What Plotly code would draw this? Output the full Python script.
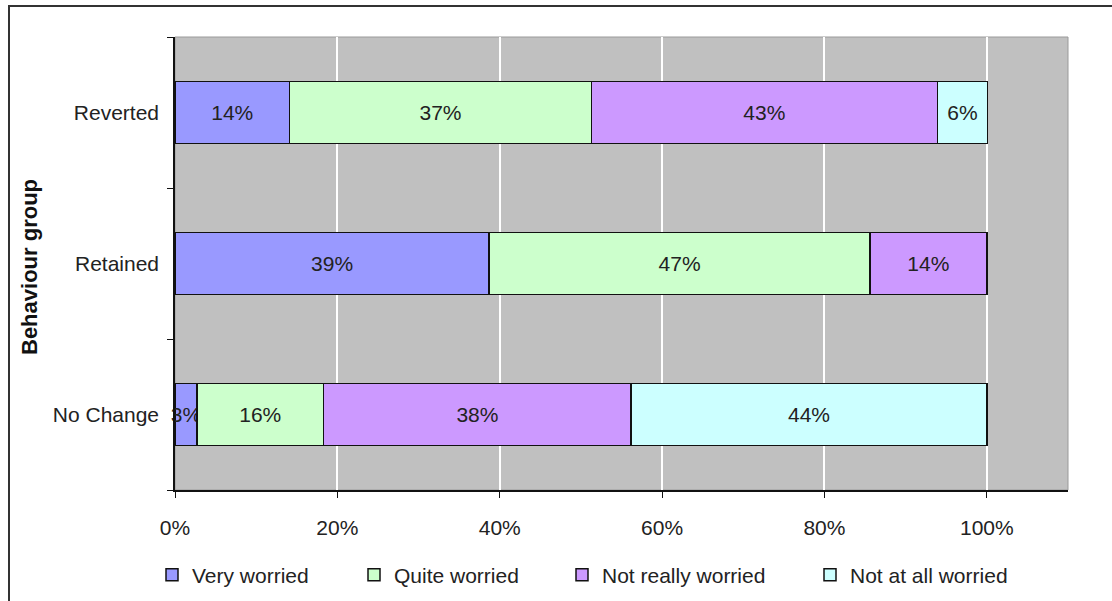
import plotly.graph_objects as go

# Behaviour groups (bottom to top) and share of each worry level, in percent
groups = ["No Change", "Retained", "Reverted"]
very_worried = [2.7, 38.7, 14.1]
quite_worried = [15.6, 46.9, 37.2]
not_really_worried = [37.9, 14.4, 42.6]
not_at_all_worried = [43.8, 0, 6.2]

series_names = ["Very worried", "Quite worried", "Not really worried", "Not at all worried"]
series_values = [very_worried, quite_worried, not_really_worried, not_at_all_worried]
series_colors = ["#9999FF", "#CCFFCC", "#CC99FF", "#CCFFFF"]

x_ticks = [0, 20, 40, 60, 80, 100]
x_tick_labels = ["0%", "20%", "40%", "60%", "80%", "100%"]

FONT = "Arial, Liberation Sans, sans-serif"
TXT = "#222222"
FS = 21

# plot-area geometry in pixels
W, H = 1112, 601
L, R, T, B = 175, 1068, 37, 490
pw, ph = R - L, B - T


def px_x(px):
    return (px - L) / pw


def px_y(py):
    return (B - py) / ph


# left edge (px) of each legend entry along the bottom row
legend_left = [152, 354, 562, 810]
legend_ids = ["legend", "legend2", "legend3", "legend4"]

fig = go.Figure()
for name, vals, color, lid in zip(series_names, series_values, series_colors, legend_ids):
    labels = [f"{v:.0f}%" if v > 0 else "" for v in vals]
    fig.add_trace(go.Bar(
        name=name,
        y=groups,
        x=vals,
        orientation="h",
        legend=lid,
        marker=dict(color=color, line=dict(color="#111111", width=1.5)),
        text=labels,
        texttemplate="%{text}",
        textposition="inside",
        insidetextanchor="middle",
        textangle=0,
        textfont=dict(family=FONT, size=FS, color=TXT),
        cliponaxis=False,
    ))

legend_layout = {}
for lid, left in zip(legend_ids, legend_left):
    legend_layout[lid] = dict(
        orientation="h",
        x=px_x(left), y=px_y(575), xanchor="left", yanchor="middle",
        font=dict(family=FONT, size=FS, color=TXT),
        itemwidth=30,
        bgcolor="rgba(0,0,0,0)",
    )

fig.update_layout(
    width=W, height=H,
    barmode="stack",
    bargap=0.59,
    paper_bgcolor="white",
    plot_bgcolor="#C0C0C0",
    margin=dict(l=L, r=W - R, t=T, b=H - B, pad=0, autoexpand=False),
    font=dict(family=FONT, size=FS, color=TXT),
    uniformtext=dict(minsize=FS, mode="show"),
    showlegend=True,
    xaxis=dict(
        range=[0, 110],
        tickvals=x_ticks,
        ticktext=x_tick_labels,
        showgrid=True, gridcolor="white", gridwidth=1.5,
        zeroline=False,
        showline=True, linecolor="#111111", linewidth=1.5,
        ticks="outside", ticklen=6, tickcolor="#111111",
        tickfont=dict(family=FONT, size=FS, color=TXT),
        ticklabelstandoff=12,
        automargin=False,
        fixedrange=True,
    ),
    yaxis=dict(
        categoryorder="array", categoryarray=groups,
        showgrid=False, zeroline=False,
        showline=True, linecolor="#111111", linewidth=1.5,
        ticks="outside", ticklen=6, tickcolor="#111111",
        tickson="boundaries",
        tickfont=dict(family=FONT, size=FS, color=TXT),
        ticklabelstandoff=10,
        automargin=False,
        fixedrange=True,
    ),
    annotations=[
        dict(
            text="<b>Behaviour group</b>",
            xref="paper", yref="paper",
            x=px_x(29), y=px_y(267),
            xanchor="center", yanchor="middle",
            textangle=-90, showarrow=False,
            font=dict(family=FONT, size=22, color="#111111"),
        )
    ],
    shapes=[
        # chart-area border
        dict(type="rect", xref="paper", yref="paper",
             x0=px_x(9), x1=px_x(1125), y0=px_y(615), y1=px_y(6),
             line=dict(color="#333333", width=2), fillcolor="rgba(0,0,0,0)",
             layer="below"),
        # thin grey frame around the plot area
        dict(type="rect", xref="paper", yref="paper",
             x0=0, x1=1, y0=0, y1=1,
             line=dict(color="#9A9A9A", width=1), fillcolor="rgba(0,0,0,0)",
             layer="below"),
    ],
    **legend_layout,
)

fig.write_html("out.html")
